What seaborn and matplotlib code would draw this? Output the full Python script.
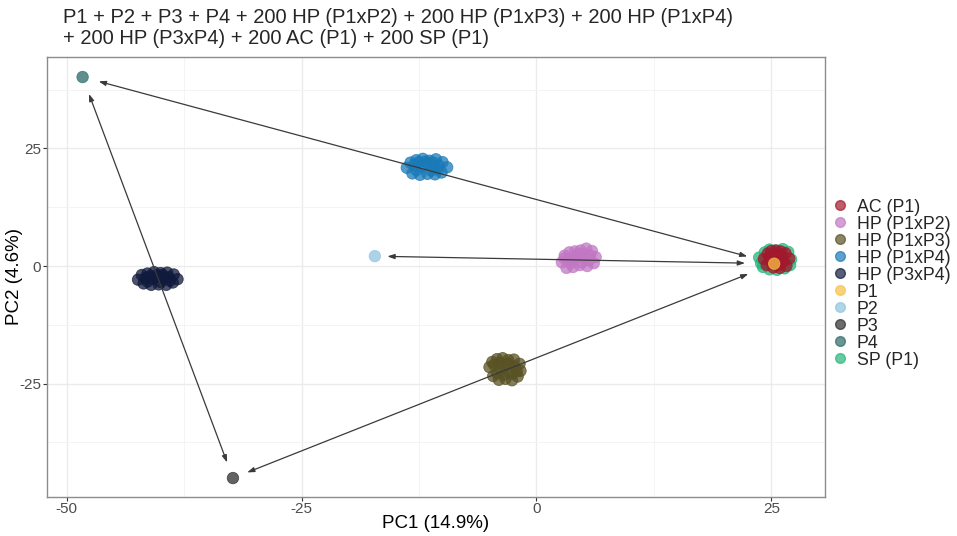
import numpy as np
import pandas as pd
import matplotlib
matplotlib.use("Agg")
import matplotlib.pyplot as plt
import seaborn as sns
from matplotlib.ticker import MultipleLocator

# ---- data (clusters are visible-blob estimates) ----
sp_x = [23.7, 23.9, 24.3, 24.8, 25.4, 26.2, 26.8, 27.1, 24.1, 24.8, 25.6, 26.4, 27.0, 24.6, 25.9, 25.0]
sp_y = [1.8, 0.6, 2.9, 3.5, 3.3, 3.6, 3.0, 1.4, -0.2, -0.7, -0.8, -0.5, 0.2, 1.4, 1.5, 2.2]
ac_x = [24.2, 24.6, 25.0, 25.5, 26.0, 26.5, 26.9, 24.5, 25.2, 25.9, 26.6, 24.9, 25.6, 26.3, 25.3, 26.0,
        24.8, 25.4, 26.1, 25.0, 25.8]
ac_y = [1.5, 2.6, 3.2, 3.3, 3.1, 2.7, 1.6, 0.2, -0.3, -0.4, 0.0, 1.2, 1.8, 1.0, 0.6, 2.2,
        2.0, 2.4, 1.5, 0.8, 0.3]
hp12_x = [2.7, 3.0, 3.5, 4.1, 4.7, 5.3, 5.9, 6.3, 3.2, 3.9, 4.6, 5.4, 6.1, 4.0, 5.0, 4.4,
          3.4, 4.2, 5.0, 5.7, 3.6, 4.8, 5.6, 3.0]
hp12_y = [0.8, 2.2, 2.9, 3.1, 3.3, 3.7, 3.2, 1.9, -0.4, -0.2, 0.2, 0.0, 0.6, 1.5, 1.8, 2.5,
          1.4, 2.1, 2.6, 2.3, 0.6, 0.8, 1.2, 1.6]
hp13_x = [-5.0, -4.7, -4.2, -3.6, -3.0, -2.4, -1.8, -1.7, -4.6, -4.0, -3.3, -2.6, -2.0, -3.8, -2.9, -3.3,
          -4.5, -3.9, -3.0, -2.3, -4.2, -3.5, -2.6, -2.1]
hp13_y = [-21.5, -20.4, -19.8, -19.6, -20.0, -19.9, -20.8, -22.3, -23.4, -24.2, -24.0, -24.3, -23.5, -22.0, -22.5, -21.0,
          -21.0, -20.6, -20.8, -21.4, -22.8, -23.1, -22.9, -22.4]
hp14_x = [-13.8, -13.4, -12.8, -12.1, -11.4, -10.7, -10.0, -9.5, -13.2, -12.4, -11.6, -10.8, -10.1, -12.2, -11.0, -11.6,
          -13.0, -12.5, -11.8, -11.0, -10.4, -12.8, -11.2, -10.5]
hp14_y = [20.9, 22.0, 22.5, 22.8, 22.4, 22.7, 22.1, 21.0, 19.7, 19.4, 19.6, 19.5, 19.9, 21.2, 21.0, 21.8,
          21.5, 22.1, 22.2, 22.0, 21.4, 20.4, 20.3, 20.6]
hp34_x = [-42.4, -42.0, -41.4, -40.7, -40.0, -39.3, -38.6, -38.2, -41.8, -41.0, -40.2, -39.4, -38.7, -40.8, -39.6, -40.2,
          -41.6, -41.2, -40.5, -39.8, -39.1, -41.4, -40.0, -39.0]
hp34_y = [-2.9, -1.9, -1.6, -1.3, -1.5, -1.4, -1.8, -2.8, -3.7, -4.0, -3.9, -4.0, -3.5, -2.7, -2.6, -2.2,
          -2.6, -2.2, -2.0, -1.9, -2.4, -3.3, -3.4, -3.1]
p1_x, p1_y = [25.3], [0.5]
p2_x, p2_y = [-17.2], [2.1]
p3_x, p3_y = [-32.3], [-45.1]
p4_x, p4_y = [-48.3], [40.2]

# draw order (later rows on top)
groups = [
    ("SP (P1)", sp_x, sp_y),
    ("AC (P1)", ac_x, ac_y),
    ("HP (P1xP2)", hp12_x, hp12_y),
    ("HP (P1xP3)", hp13_x, hp13_y),
    ("HP (P1xP4)", hp14_x, hp14_y),
    ("HP (P3xP4)", hp34_x, hp34_y),
    ("P1", p1_x, p1_y),
    ("P2", p2_x, p2_y),
    ("P3", p3_x, p3_y),
    ("P4", p4_x, p4_y),
]
legend_order = ["AC (P1)", "HP (P1xP2)", "HP (P1xP3)", "HP (P1xP4)", "HP (P3xP4)",
                "P1", "P2", "P3", "P4", "SP (P1)"]
palette = {
    "AC (P1)": "#A3182C",
    "HP (P1xP2)": "#C277C4",
    "HP (P1xP3)": "#585224",
    "HP (P1xP4)": "#1A7AB8",
    "HP (P3xP4)": "#101A3C",
    "P1": "#F8C045",
    "P2": "#8FC4DE",
    "P3": "#2E2E2E",
    "P4": "#2A6A66",
    "SP (P1)": "#25B57A",
}
# arrows between parents / crosses: (start, end, shrink at start pt, shrink at end pt)
arrows = [("P1", "P4", 20, 12), ("P1", "P2", 21, 9), ("P1", "P3", 20, 11), ("P4", "P3", 13, 12)]

title = ("P1 + P2 + P3 + P4 + 200 HP (P1xP2) + 200 HP (P1xP3) + 200 HP (P1xP4)\n"
         "+ 200 HP (P3xP4) + 200 AC (P1) + 200 SP (P1)")

rows = []
for name, xs, ys in groups:
    for x, y in zip(xs, ys):
        rows.append((name, x, y))
df = pd.DataFrame(rows, columns=["group", "PC1", "PC2"])

sns.set_theme(style="white")
plt.rcParams["font.family"] = ["Liberation Sans", "DejaVu Sans"]

fig = plt.figure(figsize=(9.57, 5.36), dpi=100)
ax = fig.add_axes([0.049, 0.073, 0.813, 0.821])

sns.scatterplot(data=df, x="PC1", y="PC2", hue="group", hue_order=legend_order,
                palette=palette, s=68, alpha=0.75, edgecolor="face", linewidth=0.6,
                ax=ax, legend=False, zorder=3)

pos = {name: (xs[0], ys[0]) for name, xs, ys in groups if len(xs) == 1}
for a, b, sa, sb in arrows:
    ax.annotate("", xy=pos[b], xytext=pos[a],
                arrowprops=dict(arrowstyle="<|-|>,head_length=0.35,head_width=0.12",
                                color="#3a3a3a", lw=0.9, shrinkA=sa, shrinkB=sb),
                zorder=4)

ax.set_xlim(-52.1, 30.7)
ax.set_ylim(-49.1, 44.5)
ax.xaxis.set_major_locator(MultipleLocator(25))
ax.yaxis.set_major_locator(MultipleLocator(25))
ax.xaxis.set_minor_locator(MultipleLocator(12.5))
ax.yaxis.set_minor_locator(MultipleLocator(12.5))
ax.grid(which="major", color="#EBEBEB", lw=1.0, zorder=0)
ax.grid(which="minor", color="#F3F3F3", lw=0.6, zorder=0)
ax.set_axisbelow(True)
for sp in ax.spines.values():
    sp.set_color("#8C8C8C")
    sp.set_linewidth(1.0)
ax.tick_params(axis="both", which="major", length=3, width=0.8, color="#333333",
               labelsize=11, labelcolor="#4D4D4D", pad=1, bottom=True, left=True)
ax.tick_params(which="minor", length=0)
ax.set_xticks([-50, -25, 0, 25])
ax.set_xticklabels(["-50", "-25", "0", "25"])
ax.set_yticks([-25, 0, 25])
ax.set_yticklabels(["-25", "0", "25"])
ax.set_xlabel("PC1 (14.9%)", fontsize=13.5, color="black")
ax.set_ylabel("PC2 (4.6%)", fontsize=13.5, color="black")
ax.xaxis.set_label_coords(0.5, -0.042, transform=ax.transAxes)
ax.yaxis.set_label_coords(-0.041, 0.5, transform=ax.transAxes)
ax.xaxis.label.set_va("top")
ax.yaxis.label.set_va("center")

fig.text(0.066, 0.986, title, ha="left", va="top", fontsize=14.5, linespacing=1.15)

handles = [plt.Line2D([], [], marker="o", ls="", markersize=7,
                      markerfacecolor=palette[n], markeredgecolor=palette[n],
                      alpha=0.7) for n in legend_order]
fig.legend(handles, legend_order, loc="center left", bbox_to_anchor=(0.870, 0.471),
           frameon=False, fontsize=12.8, handletextpad=0.55, labelspacing=0.0,
           borderaxespad=0, handlelength=0.8, borderpad=0)

fig.savefig("out.png", dpi=100)
